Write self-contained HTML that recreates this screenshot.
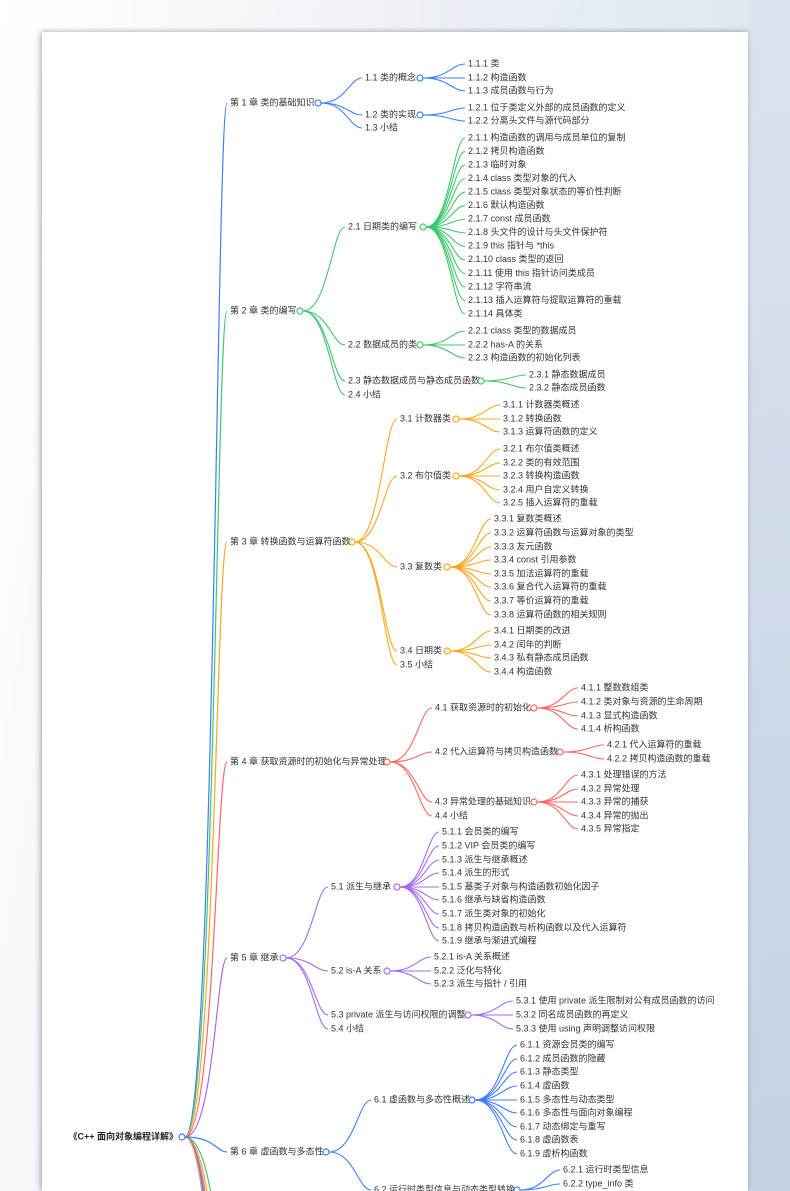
<!DOCTYPE html>
<html><head><meta charset="utf-8"><style>
html,body{margin:0;padding:0;width:790px;height:1191px;overflow:hidden}
body{background:linear-gradient(100deg,#ffffff 0%,#eef2f7 40%,#d6e0ec 100%);position:relative;font-family:"Liberation Sans","Noto Sans CJK SC",sans-serif}
#page{position:absolute;left:42px;top:32px;width:706px;height:1159px;background:#fff;box-shadow:-2px 0 6px rgba(0,0,0,.25),0 -1px 4px rgba(0,0,0,.1)}
#right{position:absolute;left:748px;top:0;width:42px;height:1191px;background:linear-gradient(#dbe3ee,#c5d2e2)}
svg{position:absolute;left:0;top:0}
text{font-size:9px;fill:#333;dominant-baseline:middle}
</style></head><body>
<div id="right"></div>
<div id="page"></div>
<svg id="s" width="790" height="1191" xmlns="http://www.w3.org/2000/svg"></svg>
<script>
var B='#3d7cff',G='#3cc86e',O='#ffa41c',R='#ff6464',P='#a66bea';
function L(x,ys,labels){return labels.map(function(t,i){return {t:t,x:x,y:ys[i]};});}
function seq(a,step,n){var r=[];for(var i=0;i<n;i++)r.push(a+step*i);return r;}
var data=[
{t:'第 1 章 类的基础知识',x:230,y:103,c:B,cx:318,k:[
 {t:'1.1 类的概念',x:365,y:78,cx:420,k:L(468,[64,78,91],['1.1.1 类','1.1.2 构造函数','1.1.3 成员函数与行为'])},
 {t:'1.2 类的实现',x:365,y:115,cx:420,k:L(468,[108,121],['1.2.1 位于类定义外部的成员函数的定义','1.2.2 分离头文件与源代码部分'])},
 {t:'1.3 小结',x:365,y:128}]},
{t:'第 2 章 类的编写',x:230,y:311,c:G,cx:300,k:[
 {t:'2.1 日期类的编写',x:348,y:227,cx:423,k:L(468,seq(138,13.54,14),['2.1.1 构造函数的调用与成员单位的复制','2.1.2 拷贝构造函数','2.1.3 临时对象','2.1.4 class 类型对象的代入','2.1.5 class 类型对象状态的等价性判断','2.1.6 默认构造函数','2.1.7 const 成员函数','2.1.8 头文件的设计与头文件保护符','2.1.9 this 指针与 *this','2.1.10 class 类型的返回','2.1.11 使用 this 指针访问类成员','2.1.12 字符串流','2.1.13 插入运算符与提取运算符的重载','2.1.14 具体类'])},
 {t:'2.2 数据成员的类',x:348,y:345,cx:420,k:L(468,[331,345,358],['2.2.1 class 类型的数据成员','2.2.2 has-A 的关系','2.2.3 构造函数的初始化列表'])},
 {t:'2.3 静态数据成员与静态成员函数',x:348,y:381,cx:481,k:L(529,[375,388],['2.3.1 静态数据成员','2.3.2 静态成员函数'])},
 {t:'2.4 小结',x:348,y:395}]},
{t:'第 3 章 转换函数与运算符函数',x:230,y:542,c:O,cx:352,k:[
 {t:'3.1 计数器类',x:400,y:419,cx:456,k:L(503,[405,419,432],['3.1.1 计数器类概述','3.1.2 转换函数','3.1.3 运算符函数的定义'])},
 {t:'3.2 布尔值类',x:400,y:476,cx:456,k:L(503,[449,463,476,490,503],['3.2.1 布尔值类概述','3.2.2 类的有效范围','3.2.3 转换构造函数','3.2.4 用户自定义转换','3.2.5 插入运算符的重载'])},
 {t:'3.3 复数类',x:400,y:567,cx:447,k:L(494,[519,533,547,560,574,587,601,615],['3.3.1 复数类概述','3.3.2 运算符函数与运算对象的类型','3.3.3 友元函数','3.3.4 const 引用参数','3.3.5 加法运算符的重载','3.3.6 复合代入运算符的重载','3.3.7 等价运算符的重载','3.3.8 运算符函数的相关规则'])},
 {t:'3.4 日期类',x:400,y:651,cx:447,k:L(494,[631,645,658,672],['3.4.1 日期类的改进','3.4.2 闰年的判断','3.4.3 私有静态成员函数','3.4.4 构造函数'])},
 {t:'3.5 小结',x:400,y:665}]},
{t:'第 4 章 获取资源时的初始化与异常处理',x:230,y:762,c:R,cx:387,k:[
 {t:'4.1 获取资源时的初始化',x:435,y:708,cx:534,k:L(581,[688,702,716,729],['4.1.1 整数数组类','4.1.2 类对象与资源的生命周期','4.1.3 显式构造函数','4.1.4 析构函数'])},
 {t:'4.2 代入运算符与拷贝构造函数',x:435,y:752,cx:560,k:L(607,[745,759],['4.2.1 代入运算符的重载','4.2.2 拷贝构造函数的重载'])},
 {t:'4.3 异常处理的基础知识',x:435,y:802,cx:534,k:L(581,[775,789,802,816,829],['4.3.1 处理错误的方法','4.3.2 异常处理','4.3.3 异常的捕获','4.3.4 异常的抛出','4.3.5 异常指定'])},
 {t:'4.4 小结',x:435,y:816}]},
{t:'第 5 章 继承',x:230,y:958,c:P,cx:283,k:[
 {t:'5.1 派生与继承',x:331,y:887,cx:397,k:L(442,[832,846,860,873,887,900,914,928,941],['5.1.1 会员类的编写','5.1.2 VIP 会员类的编写','5.1.3 派生与继承概述','5.1.4 派生的形式','5.1.5 基类子对象与构造函数初始化因子','5.1.6 继承与缺省构造函数','5.1.7 派生类对象的初始化','5.1.8 拷贝构造函数与析构函数以及代入运算符','5.1.9 继承与渐进式编程'])},
 {t:'5.2 is-A 关系',x:331,y:971,cx:387,k:L(434,[957,971,984],['5.2.1 is-A 关系概述','5.2.2 泛化与特化','5.2.3 派生与指针 / 引用'])},
 {t:'5.3 private 派生与访问权限的调整',x:331,y:1015,cx:468,k:L(516,[1001,1015,1029],['5.3.1 使用 private 派生限制对公有成员函数的访问','5.3.2 同名成员函数的再定义','5.3.3 使用 using 声明调整访问权限'])},
 {t:'5.4 小结',x:331,y:1029}]},
{t:'第 6 章 虚函数与多态性',x:230,y:1152,c:B,cx:326,k:[
 {t:'6.1 虚函数与多态性概述',x:374,y:1100,cx:472,k:L(520,[1045,1059,1072,1086,1100,1113,1127,1140,1154],['6.1.1 资源会员类的编写','6.1.2 成员函数的隐藏','6.1.3 静态类型','6.1.4 虚函数','6.1.5 多态性与动态类型','6.1.6 多态性与面向对象编程','6.1.7 动态绑定与重写','6.1.8 虚函数表','6.1.9 虚析构函数'])},
 {t:'6.2 运行时类型信息与动态类型转换',x:374,y:1190,cx:517,k:L(563,[1170,1184],['6.2.1 运行时类型信息','6.2.2 type_info 类'])}]}
];
var s=document.getElementById('s'),NS='http://www.w3.org/2000/svg';
var lines=document.createElementNS(NS,'g'),top_=document.createElementNS(NS,'g');s.appendChild(lines);s.appendChild(top_);
function el(n,a,p){var e=document.createElementNS(NS,n);for(var k in a)e.setAttribute(k,a[k]);(p||top_).appendChild(e);return e;}
function edge(x1,y1,x2,y2,c,w,f){var dx=x2-x1;el('path',{d:'M'+x1+' '+y1+' C'+(x1+dx*f)+' '+y1+' '+(x2-dx*(1-f)*0.5-dx*0.1)+' '+y2+' '+x2+' '+y2,fill:'none',stroke:c,'stroke-width':w},lines);}
function txt(t,x,y,extra){var e=el('text',Object.assign({x:x,y:y},extra||{}));e.textContent=t;return e;}
function circ(x,y,c){el('circle',{cx:x,cy:y,r:3,fill:'#fff',stroke:c,'stroke-width':1.2});}
var RX=182,RY=1137;
[[G,1300],[O,1400],[R,1500],[P,1600],[B,1700],[G,1800],['#ff9a6b',1900]].forEach(function(a,i){edge(RX+3,RY,230+i*2,a[1],a[0],1.2,0.7);});
function draw(n,c,px,py){
  edge(px+3,py,n.x-3,n.y,c,1.1,0.6);
  txt(n.t,n.x,n.y);
  if(n.k){n.k.forEach(function(ch){draw(ch,c,n.cx,n.y);});circ(n.cx,n.y,c);}
}
data.forEach(function(ch){
  edge(RX+3,RY,ch.x-3,ch.y,ch.c,1.2,0.7);
  txt(ch.t,ch.x,ch.y);
  ch.k.forEach(function(k){draw(k,ch.c,ch.cx,ch.y);});
  circ(ch.cx,ch.y,ch.c);
});
txt('《C++ 面向对象编程详解》',178,RY,{'text-anchor':'end','font-weight':'bold','font-size':'9.5px',style:'fill:#222'});
circ(RX,RY,B);
</script>
</body></html>
